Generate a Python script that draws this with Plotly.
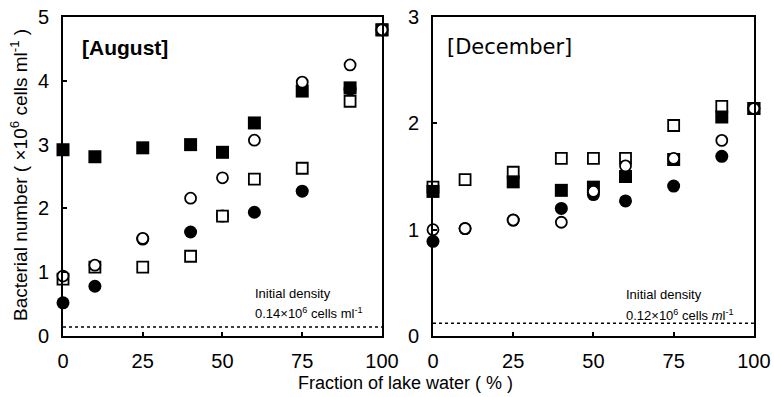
import plotly.graph_objects as go

# Data
fraction = [0, 10, 25, 40, 50, 60, 75, 90, 100]

aug_filled_sq = [2.92, 2.81, 2.95, 3.00, 2.88, 3.34, 3.84, 3.89, 4.80]
aug_open_circ = [0.94, 1.11, 1.53, 2.16, 2.48, 3.07, 3.98, 4.25, 4.80]
aug_open_sq = [0.89, 1.08, 1.08, 1.25, 1.88, 2.46, 2.63, 3.68, 4.80]
aug_filled_circ = [0.52, 0.78, 1.52, 1.63, 1.88, 1.94, 2.27, 3.87, 4.80]

dec_filled_sq = [1.36, None, 1.45, 1.37, 1.40, 1.50, 1.66, 2.06, 2.14]
dec_open_circ = [1.00, 1.01, 1.09, 1.07, 1.36, 1.60, 1.67, 1.84, 2.14]
dec_open_sq = [1.40, 1.47, 1.54, 1.67, 1.67, 1.67, 1.98, 2.16, 2.14]
dec_filled_circ = [0.89, 1.01, 1.09, 1.20, 1.33, 1.27, 1.41, 1.69, 2.14]

aug_initial = 0.14
dec_initial = 0.12

x_ticks = [0, 25, 50, 75, 100]
aug_y_ticks = [0, 1, 2, 3, 4, 5]
dec_y_ticks = [0, 1, 2, 3]

FONT = "Liberation Sans, Arial, sans-serif"

fig = go.Figure()

def add_panel(xa, ya, fsq, fci, osq, oci, init):
    common = dict(x=fraction, mode="markers", xaxis=xa, yaxis=ya,
                  showlegend=False, cliponaxis=False)
    fig.add_trace(go.Scatter(x=[0, 100], y=[init, init], mode="lines",
                             line=dict(color="black", width=1.6, dash="dot"),
                             xaxis=xa, yaxis=ya, showlegend=False))
    fig.add_trace(go.Scatter(y=fci, marker=dict(symbol="circle", size=13, color="black"), **common))
    fig.add_trace(go.Scatter(y=osq, marker=dict(symbol="square", size=11, color="white",
                                                 line=dict(color="black", width=1.8)), **common))
    fig.add_trace(go.Scatter(y=fsq, marker=dict(symbol="square", size=13, color="black"), **common))
    fig.add_trace(go.Scatter(y=oci, marker=dict(symbol="circle", size=11, color="white",
                                                 line=dict(color="black", width=1.8)), **common))

add_panel("x", "y", aug_filled_sq, aug_filled_circ, aug_open_sq, aug_open_circ, aug_initial)
add_panel("x2", "y2", dec_filled_sq, dec_filled_circ, dec_open_sq, dec_open_circ, dec_initial)

ydom = [0.1537, 0.957]
axis_common = dict(showgrid=False, zeroline=False, showline=True, linecolor="black",
                   linewidth=1.6, mirror=True, ticks="inside", ticklen=4,
                   tickcolor="black", tickwidth=1.5, automargin=False,
                   tickfont=dict(family=FONT, size=20, color="black"))

fig.update_layout(
    width=774, height=397, autosize=False,
    margin=dict(l=0, r=0, t=0, b=0, pad=0),
    paper_bgcolor="white", plot_bgcolor="white",
    xaxis=dict(domain=[0.0814, 0.4935], range=[0, 100], tickvals=x_ticks,
               anchor="y", ticklabelstandoff=6, **axis_common),
    yaxis=dict(domain=ydom, range=[0, 5], tickvals=aug_y_ticks, anchor="x",
               ticklabelstandoff=8, **axis_common),
    xaxis2=dict(domain=[0.5594, 0.974], range=[0, 100], tickvals=x_ticks,
                anchor="y2", ticklabelstandoff=6, **axis_common),
    yaxis2=dict(domain=ydom, range=[0, 3], tickvals=dec_y_ticks, anchor="x2",
                ticklabelstandoff=8, **axis_common),
)

ann_font = dict(family=FONT, size=13, color="black")
anns = [
    dict(text="<b>[August]</b>", x=5.3, y=4.53, xref="x", yref="y", xanchor="left",
         yanchor="middle", showarrow=False, font=dict(family=FONT, size=21, color="black")),
    dict(text="[December]", x=3.7, y=2.72, xref="x2", yref="y2", xanchor="left",
         yanchor="middle", showarrow=False, font=dict(family="DejaVu Sans", size=21, color="black")),
    dict(text="Initial density", x=59.5, y=0.67, xref="x", yref="y", xanchor="left",
         yanchor="middle", showarrow=False, font=ann_font),
    dict(text="0.14×10<sup>6</sup> cells ml<sup>-1</sup>", x=59.5, y=0.36, xref="x", yref="y",
         xanchor="left", yanchor="middle", showarrow=False, font=ann_font),
    dict(text="Initial density", x=59.4, y=0.39, xref="x2", yref="y2", xanchor="left",
         yanchor="middle", showarrow=False, font=ann_font),
    dict(text="0.12×10<sup>6</sup> cells <i>m</i>l<sup>-1</sup>", x=59.4, y=0.197, xref="x2", yref="y2",
         xanchor="left", yanchor="middle", showarrow=False, font=ann_font),
    dict(text="Bacterial number ( ×10<sup>6</sup> cells ml<sup>-1</sup> )", x=0.0245, y=0.559,
         xref="paper", yref="paper", textangle=-90, showarrow=False,
         xanchor="center", yanchor="middle", font=dict(family=FONT, size=19, color="black")),
    dict(text="Fraction of lake water ( % )", x=0.5245, y=0.035, xref="paper", yref="paper",
         showarrow=False, xanchor="center", yanchor="middle",
         font=dict(family=FONT, size=18, color="black")),
]
fig.update_layout(annotations=anns)

fig.write_html("out.html", config={"displayModeBar": False},
               post_script="document.body.style.margin='0px';document.body.style.overflow='hidden';")
